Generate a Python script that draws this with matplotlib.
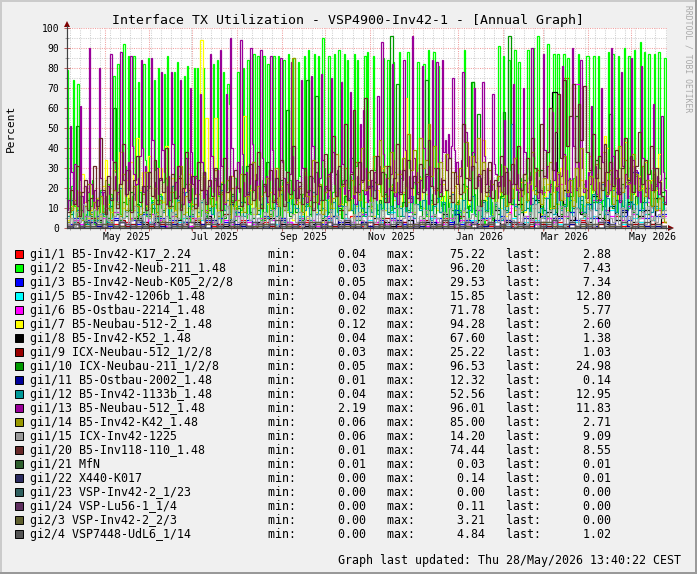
import numpy as np
import matplotlib
matplotlib.use('Agg')
import matplotlib.pyplot as plt
from matplotlib.patches import Rectangle, Polygon
from matplotlib.lines import Line2D

W, H = 697, 574
start = np.datetime64('2025-04-05')
end = np.datetime64('2026-05-26')
ndays = int((end - start) / np.timedelta64(1, 'D'))

# ---------------- data ----------------
# daily samples
gi1_2 = [
    79, 14, 8, 21, 74, 11, 5,
    72, 9, 16, 4, 12, 3, 7,
    18, 6, 11, 24, 9, 2, 3,
    15, 8, 19, 12, 6, 2, 14,
    22, 9, 17, 5, 76, 28, 13,
    82, 19, 7, 24, 92, 31, 12,
    86, 22, 9, 16, 86, 27, 4,
    73, 18, 11, 25, 82, 34, 6,
    85, 21, 8, 14, 74, 29, 3,
    80, 17, 10, 23, 77, 12, 86,
    19, 5, 13, 21, 78, 9, 83,
    26, 4, 12, 18, 76, 22, 81,
    14, 3, 20, 11, 80, 25, 80,
    17, 6, 9, 80, 28, 13, 5,
    21, 12, 7, 82, 24, 10, 84,
    16, 3, 23, 78, 9, 19, 72,
    62, 8, 14, 11, 25, 6, 78,
    20, 9, 31, 80, 13, 5, 84,
    22, 7, 18, 87, 26, 11, 86,
    15, 4, 24, 86, 19, 8, 82,
    27, 10, 6, 86, 21, 13, 86,
    18, 5, 23, 84, 29, 9, 87,
    24, 12, 7, 85, 20, 14, 83,
    26, 8, 17, 86, 22, 11, 89,
    19, 6, 25, 87, 28, 10, 86,
    21, 9, 95, 30, 14, 7, 86,
    23, 12, 18, 87, 27, 8, 89,
    17, 5, 24, 87, 13, 84, 20,
    26, 9, 15, 87, 31, 84, 22,
    11, 6, 19, 86, 25, 88, 14,
    8, 21, 86, 29, 12, 7, 18,
    24, 10, 85, 27, 13, 84, 19,
    9, 22, 83, 28, 14, 6, 88,
    25, 11, 17, 8, 21, 88, 30,
    15, 7, 23, 12, 19, 83, 26,
    10, 20, 82, 14, 6, 89, 24,
    9, 17, 88, 28, 13, 81, 22,
    11, 5, 16, 8, 19, 4, 13,
    7, 3, 12, 6, 2, 14, 9,
    5, 18, 89, 21, 10, 4, 12,
    8, 73, 17, 6, 3, 9, 14,
    11, 5, 2, 16, 8, 21, 7,
    13, 4, 19, 9, 24, 91, 32,
    15, 86, 27, 11, 18, 84, 29,
    12, 20, 89, 31, 14, 83, 25,
    9, 17, 22, 13, 89, 28, 8,
    19, 90, 30, 14, 96, 26, 11,
    6, 21, 15, 28, 92, 24, 9,
    18, 87, 32, 12, 87, 27, 10,
    14, 87, 29, 11, 85, 23, 8,
    16, 25, 13, 19, 87, 31, 12,
    7, 22, 15, 86, 86, 28, 10,
    18, 86, 26, 13, 86, 30, 9,
    14, 21, 11, 24, 88, 27, 12,
    87, 19, 8, 25, 86, 30, 14,
    11, 90, 23, 9, 86, 28, 13,
    17, 89, 26, 12, 21, 93, 31,
    10, 88, 24, 15, 87, 29, 11,
    18, 87, 22, 13, 88, 27, 9,
    16, 85, 20,
]
gi1_13 = [
    9, 14, 51, 28, 12, 32, 19,
    11, 24, 61, 16, 8, 21, 13,
    18, 90, 22, 17, 10, 19, 9,
    14, 80, 25, 12, 18, 9, 16,
    21, 17, 87, 34, 19, 26, 14,
    18, 22, 88, 38, 24, 16, 29,
    33, 19, 86, 41, 27, 14, 22,
    25, 36, 84, 40, 18, 31, 12,
    20, 28, 85, 44, 23, 15, 30,
    17, 24, 78, 39, 28, 12, 21,
    26, 14, 78, 42, 19, 23, 15,
    31, 74, 27, 12, 20, 35, 18,
    13, 70, 38, 22, 17, 26, 11,
    24, 67, 33, 15, 28, 19, 12,
    21, 87, 36, 18, 25, 14, 29,
    17, 89, 31, 22, 12, 67, 24,
    19, 95, 40, 26, 14, 21, 33,
    18, 94, 37, 23, 16, 28, 12,
    22, 90, 42, 19, 27, 15, 31,
    14, 89, 35, 21, 18, 26, 13,
    24, 86, 39, 17, 29, 12, 20,
    16, 85, 33, 25, 14, 22, 18,
    27, 83, 36, 19, 12, 24, 15,
    21, 74, 30, 16, 26, 13, 19,
    14, 76, 41, 23, 17, 28, 12,
    25, 77, 34, 18, 21, 15, 27,
    13, 75, 38, 22, 16, 29, 11,
    20, 73, 32, 17, 24, 14, 19,
    68, 28, 15, 21, 12, 26, 18,
    52, 23, 59, 17, 30, 13, 21,
    16, 24, 19, 28, 14, 66, 31,
    22, 93, 37, 18, 25, 13, 20,
    27, 82, 34, 16, 23, 12, 29,
    18, 24, 84, 39, 21, 15, 26,
    13, 96, 35, 22, 28, 17, 14,
    24, 81, 40, 19, 26, 12, 31,
    21, 84, 30, 17, 83, 33, 18,
    25, 84, 38, 44, 29, 47, 35,
    41, 75, 39, 28, 33, 22, 26,
    34, 78, 43, 48, 31, 36, 24,
    29, 38, 70, 33, 21, 27, 18,
    25, 73, 36, 22, 30, 16, 24,
    19, 67, 32, 27, 15, 23, 18,
    26, 21, 54, 30, 17, 24, 13,
    22, 72, 35, 19, 27, 14, 20,
    16, 70, 38, 23, 18, 26, 12,
    90, 36, 21, 28, 15, 24, 19,
    17, 87, 39, 25, 31, 18, 22,
    58, 24, 33, 19, 27, 14, 26,
    81, 37, 22, 29, 16, 25, 18,
    90, 41, 26, 19, 33, 21, 84,
    30, 18, 24, 15, 28, 22, 61,
    25, 19, 31, 17, 23, 14, 70,
    33, 21, 28, 16, 24, 19, 90,
    36, 22, 29, 17, 25, 13, 78,
    31, 20, 27, 15, 23, 18, 85,
    34, 22, 29, 16, 25, 13, 81,
    35, 24, 18, 27, 15, 22, 19,
    62, 30, 21, 26, 17, 24, 56,
    28, 19, 12,
]
# two-day samples
gi1_20 = [
    8, 19, 12, 31, 6, 18, 24, 9, 15, 31,
    11, 45, 19, 7, 26, 14, 33, 10, 22, 42,
    17, 29, 8, 24, 36, 13, 21, 9, 28, 16,
    34, 12, 25, 18, 40, 11, 27, 15, 31, 9,
    20, 38, 14, 26, 10, 33, 19, 28, 12, 24,
    16, 30, 21, 9, 35, 18, 26, 13, 29, 20,
    11, 27, 17, 32, 14, 24, 38, 10, 22, 16,
    29, 13, 25, 19, 34, 11, 28, 17, 41, 15,
    23, 12, 30, 18, 26, 9, 33, 21, 14, 37,
    19, 28, 46, 16, 31, 22, 52, 14, 27, 59,
    18, 33, 24, 65, 20, 29, 15, 36, 22, 28,
    13, 31, 19, 25, 42, 17, 29, 11, 34, 20,
    26, 15, 32, 18, 27, 44, 21, 12, 30, 16,
    24, 19, 35, 13, 28, 22, 17, 52, 25, 14,
    31, 20, 26, 11, 29, 18, 33, 15, 24, 21,
    36, 17, 28, 13, 32, 22, 41, 19, 27, 35,
    24, 45, 30, 18, 52, 26, 38, 60, 29, 48,
    67, 35, 74, 41, 56, 72, 33, 62, 44, 71,
    38, 29, 47, 25, 36, 19, 42, 28, 33, 21,
    39, 17, 30, 45, 24, 36, 18, 31, 48, 22,
    34, 27, 41, 19, 30, 23, 16, 12,
]
gi1_14 = [
    3, 9, 14, 6, 18, 4, 11, 22, 7, 13,
    5, 16, 8, 24, 10, 3, 19, 12, 6, 27,
    9, 15, 4, 21, 11, 7, 17, 28, 5, 12,
    20, 8, 14, 3, 25, 10, 18, 6, 13, 31,
    7, 16, 22, 9, 12, 4, 19, 26, 8, 15,
    11, 29, 6, 17, 13, 24, 5, 20, 9, 14,
    27, 8, 16, 12, 33, 7, 21, 10, 18, 25,
    6, 14, 30, 11, 19, 9, 23, 15, 85, 12,
    20, 8, 28, 16, 11, 34, 13, 22, 7, 18,
    26, 10, 15, 37, 12, 21, 30, 9, 24, 17,
    33, 14, 40, 19, 28, 11, 36, 22, 44, 16,
    31, 25, 38, 18, 42, 27, 35, 20, 47, 29,
    39, 23, 45, 30, 34, 52, 26, 41, 19, 33,
    24, 37, 15, 28, 21, 12, 30, 18, 43, 25,
    36, 20, 45, 27, 33, 16, 29, 22, 13, 26,
    18, 31, 11, 24, 15, 35, 20, 9, 27, 14,
    22, 38, 17, 29, 12, 25, 19, 33, 10, 21,
    28, 14, 36, 18, 24, 11, 30, 16, 40, 20,
    13, 26, 19, 32, 15, 23, 38, 17, 29, 12,
    25, 41, 18, 34, 22, 14, 37, 27, 19, 31,
    16, 24, 11, 28, 9, 15, 6, 3,
]
gi1_7 = [
    4, 11, 2, 18, 7, 27, 13, 5, 9, 3,
    15, 6, 21, 34, 12, 8, 29, 17, 38, 10,
    24, 14, 33, 9, 45, 19, 28, 11, 36, 16,
    22, 7, 30, 13, 41, 18, 25, 9, 31, 14,
    20, 8, 27, 12, 17, 6, 94, 21, 55, 10,
    15, 55, 9, 23, 12, 18, 6, 26, 11, 14,
    8, 56, 13, 19, 7, 22, 10, 16, 5, 12,
    18, 9, 14, 6, 21, 11, 8, 15, 4, 10,
    13, 7, 19, 5, 11, 16, 8, 12, 3, 9,
    14, 6, 10, 18, 7, 12, 22, 9, 15, 5,
    11, 17, 8, 13, 24, 10, 6, 19, 12, 30,
    9, 16, 21, 14, 27, 11, 18, 65, 13, 20,
    8, 15, 25, 10, 17, 6, 12, 19, 9, 14,
    22, 7, 13, 18, 10, 26, 15, 8, 20, 12,
    16, 9, 24, 11, 44, 14, 19, 7, 13, 21,
    10, 17, 6, 12, 20, 9, 15, 23, 8, 14,
    11, 19, 28, 13, 7, 16, 22, 10, 18, 25,
    12, 30, 15, 9, 21, 14, 33, 17, 24, 11,
    19, 36, 13, 27, 20, 38, 46, 40, 22, 16,
    29, 14, 35, 43, 25, 18, 31, 12, 26, 20,
    33, 15, 24, 28, 19, 37, 9, 3,
]
gi1_10 = [
    3, 7, 12, 51, 5, 9, 2, 14, 6, 4,
    10, 3, 8, 15, 5, 11, 60, 7, 4, 13,
    6, 9, 18, 5, 12, 3, 8, 21, 7, 10,
    4, 14, 6, 9, 25, 5, 11, 3, 16, 8,
    12, 5, 19, 7, 10, 4, 13, 28, 6, 9,
    15, 3, 8, 22, 5, 11, 7, 17, 4, 10,
    6, 13, 31, 8, 5, 18, 9, 12, 4, 33,
    7, 10, 15, 5, 24, 9, 59, 6, 12, 8,
    17, 4, 11, 74, 7, 13, 66, 9, 5, 20,
    8, 14, 6, 27, 10, 5, 16, 9, 35, 7,
    12, 4, 19, 8, 11, 6, 23, 9, 14, 5,
    17, 8, 96, 10, 72, 6, 13, 23, 9, 15,
    7, 18, 11, 5, 74, 9, 14, 6, 20, 8,
    12, 4, 16, 9, 7, 13, 5, 22, 8, 11,
    73, 9, 57, 6, 14, 8, 19, 5, 11, 7,
    16, 58, 9, 96, 12, 6, 18, 8, 24, 10,
    7, 15, 5, 13, 29, 9, 6, 17, 11, 8,
    21, 7, 12, 5, 16, 10, 56, 8, 14, 6,
    19, 9, 13, 34, 7, 11, 5, 18, 57, 10,
    14, 6, 22, 9, 12, 31, 8, 16, 5, 13,
    20, 7, 11, 27, 9, 15, 18, 25,
]
gi1_12 = [
    6, 14, 3, 9, 16, 5, 11, 2, 8, 13,
    4, 18, 7, 10, 3, 15, 6, 12, 20, 5,
    9, 14, 4, 17, 8, 11, 3, 19, 6, 13,
    10, 5, 16, 8, 12, 4, 21, 7, 14, 9,
    3, 18, 11, 6, 15, 8, 13, 4, 17, 10,
    7, 12, 5, 19, 9, 14, 3, 16, 8, 11,
    13, 6, 18, 4, 10, 15, 7, 12, 22, 5,
    9, 14, 6, 11, 17, 3, 13, 8, 19, 10,
    5, 15, 9, 12, 4, 18, 7, 14, 10, 6,
    16, 8, 13, 5, 20, 11, 7, 15, 9, 12,
    4, 17, 10, 6, 14, 8, 19, 5, 12, 9,
    15, 7, 11, 3, 18, 10, 6, 13, 8, 16,
    5, 12, 9, 14, 7, 20, 4, 11, 15, 8,
    13, 6, 10, 17, 5, 12, 8, 14, 3, 9,
    16, 7, 11, 5, 13, 9, 18, 6, 12, 10,
    4, 15, 8, 13, 52, 11, 7, 16, 9, 14,
    6, 12, 19, 8, 10, 5, 15, 21, 7, 13,
    18, 9, 11, 24, 14, 6, 20, 10, 16, 8,
    12, 5, 17, 9, 13, 22, 7, 15, 11, 19,
    8, 14, 6, 21, 10, 16, 12, 7, 18, 9,
    13, 20, 8, 15, 11, 17, 9, 13,
]
gi1_15 = [
    2, 5, 1, 8, 3, 12, 4, 6, 2, 9,
    3, 7, 1, 10, 4, 2, 6, 13, 3, 5,
    8, 2, 4, 11, 3, 6, 1, 9, 5, 3,
    7, 2, 12, 4, 6, 1, 8, 3, 5, 10,
    2, 6, 3, 9, 1, 5, 14, 4, 7, 2,
    5, 3, 8, 1, 6, 11, 2, 4, 9, 3,
    6, 2, 7, 4, 10, 1, 5, 3, 8, 2,
    4, 9, 1, 6, 3, 12, 2, 5, 7, 3,
    8, 1, 4, 6, 2, 10, 3, 7, 1, 5,
    3, 9, 2, 6, 4, 1, 11, 5, 3, 7,
    2, 8, 4, 1, 6, 13, 3, 5, 2, 9,
    4, 1, 7, 3, 10, 2, 5, 8, 1, 6,
    12, 3, 6, 2, 9, 4, 1, 7, 5, 3,
    8, 2, 10, 4, 6, 1, 3, 9, 2, 5,
    7, 3, 11, 1, 4, 8, 2, 6, 13, 3,
    5, 9, 2, 7, 4, 1, 10, 3, 6, 2,
    8, 4, 12, 1, 5, 7, 3, 9, 2, 6,
    4, 11, 1, 8, 3, 6, 10, 2, 5, 7,
    3, 9, 1, 6, 12, 4, 2, 8, 5, 3,
    7, 2, 10, 4, 6, 1, 9, 3, 5, 8,
    2, 11, 4, 6, 3, 7, 5, 9,
]
# four-day samples
gi1_1 = [
    1, 3, 0, 2, 5, 1, 0, 4, 2, 1, 3, 0, 6, 1, 2, 0, 4, 1, 3, 0,
    2, 5, 1, 0, 3, 1, 18, 2, 0, 1, 4, 1, 0, 2, 3, 0, 1, 5, 2, 0,
    1, 3, 0, 2, 1, 4, 0, 1, 2, 6, 0, 1, 3, 0, 2, 1, 0, 4, 1, 2,
    0, 3, 1, 0, 2, 5, 1, 0, 3, 1, 2, 0, 4, 1, 0, 2, 8, 1, 3, 0,
    1, 2, 0, 5, 1, 3, 75, 2, 0, 4, 1, 0, 3, 2, 0, 6, 1, 2, 0, 3,
    1, 4, 2, 3,
]
gi1_3 = [
    2, 5, 1, 4, 3, 6, 2, 1, 5, 3, 1, 4, 2, 7, 3, 1, 5, 2, 4, 1,
    3, 6, 2, 1, 4, 2, 5, 3, 1, 8, 2, 4, 1, 3, 6, 2, 1, 5, 3, 2,
    4, 1, 3, 7, 2, 5, 1, 3, 4, 2, 6, 3, 21, 2, 4, 1, 5, 3, 2, 6,
    1, 4, 3, 2, 5, 1, 3, 9, 2, 4, 3, 1, 5, 2, 4, 6, 1, 3, 2, 5,
    4, 2, 6, 1, 3, 5, 2, 8, 4, 3, 12, 5, 3, 7, 2, 18, 6, 4, 28, 9,
    5, 11, 6, 7,
]
gi1_5 = [
    1, 3, 2, 0, 4, 1, 2, 5, 1, 3, 0, 2, 4, 1, 3, 6, 1, 2, 0, 3,
    5, 1, 2, 4, 0, 3, 1, 7, 2, 1, 3, 0, 2, 5, 1, 4, 2, 0, 3, 1,
    6, 2, 1, 3, 0, 4, 2, 1, 5, 3, 1, 2, 4, 0, 3, 1, 8, 2, 1, 4,
    2, 0, 3, 5, 1, 2, 4, 1, 3, 0, 4, 2, 1, 6, 3, 1, 2, 5, 0, 3,
    2, 4, 1, 3, 7, 2, 1, 4, 3, 5, 1, 6, 3, 2, 9, 4, 2, 16, 5, 3,
    7, 4, 10, 13,
]
gi1_6 = [
    1, 4, 2, 6, 3, 1, 5, 2, 8, 3, 2, 5, 1, 3, 7, 2, 4, 1, 6, 2,
    3, 1, 5, 2, 9, 3, 1, 4, 2, 6, 1, 3, 2, 5, 1, 4, 11, 2, 3, 1,
    5, 2, 4, 1, 3, 6, 2, 1, 4, 3, 2, 7, 1, 3, 5, 2, 4, 1, 3, 8,
    2, 4, 1, 6, 3, 2, 5, 1, 4, 2, 3, 9, 2, 5, 1, 4, 3, 12, 2, 6,
    4, 2, 18, 5, 3, 22, 6, 4, 72, 8, 5, 14, 3, 9, 6, 20, 4, 11, 7, 5,
    13, 6, 9, 6,
]
gi1_8 = [
    1, 2, 0, 3, 1, 4, 0, 2, 1, 3, 0, 1, 5, 2, 0, 3, 1, 0, 2, 4,
    1, 0, 3, 1, 6, 0, 2, 1, 4, 0, 2, 1, 0, 3, 1, 5, 0, 2, 1, 0,
    3, 1, 2, 0, 4, 1, 0, 2, 3, 1, 0, 2, 1, 5, 0, 3, 1, 2, 0, 4,
    1, 0, 3, 2, 1, 7, 0, 2, 1, 3, 0, 4, 1, 2, 9, 1, 3, 0, 12, 2,
    5, 14, 3, 8, 68, 6, 19, 4, 10, 7, 3, 16, 5, 2, 11, 4, 8, 13, 3, 6,
    9, 2, 15, 1,
]
gi1_9 = [
    1, 3, 0, 2, 5, 1, 8, 2, 0, 4, 1, 2, 0, 3, 1, 6, 2, 0, 1, 25,
    2, 0, 4, 1, 3, 0, 2, 7, 1, 0, 3, 1, 0, 2, 5, 1, 0, 3, 1, 2,
    0, 4, 1, 2, 0, 3, 1, 9, 2, 0, 1, 3, 0, 2, 1, 5, 0, 1, 3, 0,
    2, 1, 4, 0, 1, 3, 2, 0, 6, 1, 0, 2, 1, 3, 0, 1, 4, 2, 0, 1,
    3, 0, 2, 1, 5, 0, 1, 2, 0, 3, 1, 0, 2, 4, 1, 0, 3, 1, 2, 0,
    1, 2, 0, 1,
]
gi1_11 = [
    0, 2, 1, 0, 3, 1, 0, 2, 4, 1, 0, 1, 3, 0, 2, 5, 1, 0, 2, 1,
    3, 0, 1, 2, 0, 4, 1, 0, 12, 2, 1, 0, 3, 1, 0, 2, 1, 4, 0, 1,
    2, 0, 1, 3, 0, 1, 6, 0, 2, 1, 0, 3, 1, 0, 2, 1, 0, 4, 1, 0,
    2, 1, 0, 3, 1, 0, 2, 7, 0, 1, 3, 0, 1, 2, 0, 1, 4, 0, 2, 1,
    0, 3, 1, 0, 5, 1, 0, 2, 1, 0, 2, 1, 0, 3, 1, 0, 9, 1, 0, 2,
    1, 0, 1, 0,
]
gi2_4 = [
    1, 2, 1, 3, 1, 2, 0, 2, 1, 3, 2, 1, 4, 1, 2, 1, 3, 2, 1, 2,
    1, 3, 2, 1, 5, 2, 1, 2, 3, 1, 2, 1, 3, 2, 1, 2, 4, 1, 2, 1,
    3, 2, 1, 2, 1, 3, 2, 1, 4, 2, 1, 2, 3, 1, 2, 1, 2, 3, 1, 2,
    1, 3, 2, 1, 2, 4, 1, 2, 1, 3, 2, 1, 2, 3, 1, 2, 1, 3, 2, 1,
    2, 3, 1, 2, 4, 1, 2, 3, 1, 2, 1, 2, 3, 1, 2, 1, 3, 2, 1, 2,
    3, 1, 2, 1,
]
# eight-day samples
gi2_3 = [
    0, 1, 0, 2, 1, 0, 1, 0, 3, 1, 0, 1, 2, 0, 1, 0, 1, 2, 0, 1,
    0, 3, 1, 0, 1, 2, 0, 1, 0, 1, 2, 0, 1, 0, 1, 0, 2, 1, 0, 1,
    0, 3, 1, 0, 1, 2, 0, 1, 0, 1, 0, 0,
]
# sixteen-day samples
gi1_21 = [0.01, 0.02, 0.01, 0.03, 0.01, 0.02, 0.01, 0.01, 0.02, 0.01, 0.03, 0.01, 0.02,
          0.01, 0.02, 0.01, 0.01, 0.03, 0.02, 0.01, 0.02, 0.01, 0.01, 0.02, 0.01, 0.01]
gi1_22 = [0.02, 0.05, 0.01, 0.08, 0.03, 0.14, 0.02, 0.06, 0.01, 0.04, 0.09, 0.02, 0.05,
          0.01, 0.07, 0.03, 0.11, 0.02, 0.04, 0.01, 0.06, 0.03, 0.08, 0.02, 0.01, 0.01]
gi1_23 = [0.0] * 26
gi1_24 = [0.01, 0.03, 0.0, 0.05, 0.02, 0.0, 0.11, 0.01, 0.04, 0.0, 0.02, 0.06, 0.01,
          0.0, 0.03, 0.08, 0.01, 0.0, 0.02, 0.05, 0.0, 0.01, 0.03, 0.0, 0.01, 0.0]

names = ["gi1/1 B5-Inv42-K17_2.24", "gi1/2 B5-Inv42-Neub-211_1.48",
         "gi1/3 B5-Inv42-Neub-K05_2/2/8", "gi1/5 B5-Inv42-1206b_1.48",
         "gi1/6 B5-Ostbau-2214_1.48", "gi1/7 B5-Neubau-512-2_1.48",
         "gi1/8 B5-Inv42-K52_1.48", "gi1/9 ICX-Neubau-512_1/2/8",
         "gi1/10 ICX-Neubau-211_1/2/8", "gi1/11 B5-Ostbau-2002_1.48",
         "gi1/12 B5-Inv42-1133b_1.48", "gi1/13 B5-Neubau-512_1.48",
         "gi1/14 B5-Inv42-K42_1.48", "gi1/15 ICX-Inv42-1225",
         "gi1/20 B5-Inv118-110_1.48", "gi1/21 MfN", "gi1/22 X440-K017",
         "gi1/23 VSP-Inv42-2_1/23", "gi1/24 VSP-Lu56-1_1/4",
         "gi2/3 VSP-Inv42-2_2/3", "gi2/4 VSP7448-UdL6_1/14"]
colors = ["#FF0000", "#00FF00", "#0000FF", "#00FFFF", "#FF00FF", "#FFFF00",
          "#000000", "#990000", "#009900", "#000099", "#009999", "#990099",
          "#999900", "#999999", "#662828", "#2F5F2F", "#2A2A5F", "#2F5F5F",
          "#5F2F5F", "#5F5F2F", "#555555"]
stat_min = [0.04, 0.03, 0.05, 0.04, 0.02, 0.12, 0.04, 0.03, 0.05, 0.01, 0.04,
            2.19, 0.06, 0.06, 0.01, 0.01, 0.00, 0.00, 0.00, 0.00, 0.00]
stat_max = [75.22, 96.20, 29.53, 15.85, 71.78, 94.28, 67.60, 25.22, 96.53, 12.32,
            52.56, 96.01, 85.00, 14.20, 74.44, 0.03, 0.14, 0.00, 0.11, 3.21, 4.84]
stat_last = [2.88, 7.43, 7.34, 12.80, 5.77, 2.60, 1.38, 1.03, 24.98, 0.14, 12.95,
             11.83, 2.71, 9.09, 8.55, 0.01, 0.01, 0.00, 0.00, 0.00, 1.02]
values = [gi1_1, gi1_2, gi1_3, gi1_5, gi1_6, gi1_7, gi1_8, gi1_9, gi1_10, gi1_11,
          gi1_12, gi1_13, gi1_14, gi1_15, gi1_20, gi1_21, gi1_22, gi1_23, gi1_24,
          gi2_3, gi2_4]

title = "Interface TX Utilization - VSP4900-Inv42-1 - [Annual Graph]"
updated = "Graph last updated: Thu 28/May/2026 13:40:22 CEST"

# ---------------- figure ----------------
MONO = 'DejaVu Sans Mono'
BG = '#F0F0F0'
fig = plt.figure(figsize=(W / 100, H / 100), dpi=100, facecolor=BG)

def fx(x):
    return x / W

def fy(y):
    return 1 - y / H

PL, PR, PT, PB = 67, 667, 28, 228
ax = fig.add_axes([fx(PL), fy(PB), (PR - PL) / W, (PB - PT) / H])
ax.set_facecolor('white')
ax.set_xlim(0, ndays)
ax.set_ylim(0, 100)

# grid
months = np.arange(np.datetime64('2025-05'), np.datetime64('2026-06'), np.timedelta64(1, 'M'))
mdays = ((months.astype('datetime64[D]') - start) / np.timedelta64(1, 'D')).astype(int)
first_monday = 2
weeks = np.arange(first_monday, ndays, 7)
weeks = [w for w in weeks if w not in set(mdays)]
ax.set_xticks(mdays)
ax.set_xticks(weeks, minor=True)
ax.set_yticks(np.arange(0, 101, 10))
ax.set_yticks(np.arange(5, 100, 10), minor=True)
ax.set_xticklabels([])
ax.set_yticklabels([str(v) for v in range(0, 101, 10)], family=MONO, fontsize=7)
ax.grid(which='major', color='#F0A0A0', linestyle=(0, (1, 1.2)), linewidth=0.75)
ax.grid(which='minor', color='#D0D0D0', linestyle=(0, (1, 1.2)), linewidth=0.75)
ax.set_axisbelow(True)
ax.tick_params(axis='both', which='major', direction='inout', length=4, width=0.7,
               color='#C06060', pad=3.4)
ax.tick_params(axis='both', which='minor', direction='inout', length=3, width=0.7,
               color='#A0A0A0')
for s in ['top', 'right']:
    ax.spines[s].set_visible(False)
for s in ['left', 'bottom']:
    ax.spines[s].set_color('#404040')
    ax.spines[s].set_linewidth(0.8)
    ax.spines[s].set_zorder(30)

# data
for vals, col in zip(values, colors):
    n = len(vals)
    step = ndays / n
    xs = np.arange(n + 1) * step
    ys = np.append(np.asarray(vals, float), vals[-1])
    ax.plot(xs, ys, drawstyle='steps-post', color=col, lw=0.9, zorder=5,
            solid_joinstyle='miter', clip_on=True)

# month labels
for m, d in zip(months, mdays):
    mo = m.astype(object)
    if mo.month % 2 == 1:
        ax.text(d + 15, -4.7, mo.strftime('%b %Y'), ha='center', va='center',
                family=MONO, fontsize=7, clip_on=False)

# axis arrows
fig.add_artist(Line2D([fx(PL), fx(PL)], [fy(PB), fy(26)], color='#404040', lw=0.8))
fig.add_artist(Line2D([fx(PL), fx(671)], [fy(PB), fy(PB)], color='#404040', lw=0.8))
fig.add_artist(Polygon([[fx(64), fy(27)], [fx(70), fy(27)], [fx(67), fy(21)]],
                       closed=True, color='#7F0000', lw=0))
fig.add_artist(Polygon([[fx(668), fy(225)], [fx(668), fy(231)], [fx(674), fy(228)]],
                       closed=True, color='#7F0000', lw=0))

# texts
fig.text(fx(347.5), fy(24), title, ha='center', va='baseline', family=MONO, fontsize=9.5)
fig.text(fx(10.5), fy(128), 'Percent', rotation=90, ha='center', va='center',
         family=MONO, fontsize=8)
fig.text(fx(688), fy(59), 'RRDTOOL / TOBI OETIKER', rotation=270, ha='center',
         va='center', family=MONO, fontsize=5.8, color='#A8A8A8')

for k, (nm, col, mn, mx, ls) in enumerate(zip(names, colors, stat_min, stat_max, stat_last)):
    yc = 254 + 14 * k
    fig.add_artist(Rectangle((fx(15), fy(yc + 4)), 8 / W, 8 / H, facecolor=col,
                             edgecolor='#000000', lw=0.7))
    line = f"{nm:<34}min:{mn:>10.2f}   max:{mx:>10.2f}   last:{ls:>10.2f}"
    fig.text(fx(30), fy(yc + 4), line, ha='left', va='baseline', family=MONO, fontsize=8.4)

fig.text(fx(681), fy(564), updated, ha='right', va='baseline', family=MONO, fontsize=8.35)

# border shading
fig.add_artist(Rectangle((0, fy(2)), 1, 2 / H, facecolor='#CBCBCB', lw=0))
fig.add_artist(Rectangle((0, 0), 2 / W, 1, facecolor='#CBCBCB', lw=0))
fig.add_artist(Rectangle((0, 0), 1, 2 / H, facecolor='#999999', lw=0))
fig.add_artist(Rectangle((1 - 2 / W, 0), 2 / W, 1, facecolor='#999999', lw=0))

fig.savefig('out.png', dpi=100, facecolor=BG)
